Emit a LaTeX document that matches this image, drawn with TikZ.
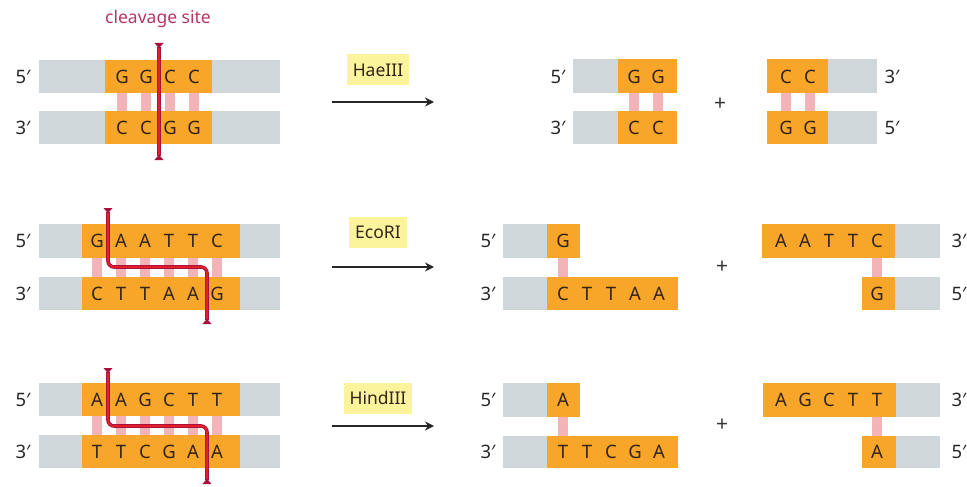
\documentclass[tikz,border=0pt]{standalone}
\usepackage{fontspec}
\setmainfont{Noto Sans}
\usetikzlibrary{arrows.meta}
\definecolor{dnagray}{HTML}{CFD7DA}
\definecolor{dnaorange}{HTML}{F8A62A}
\definecolor{pairpink}{HTML}{F3B4B8}
\definecolor{basecol}{HTML}{33241A}
\definecolor{cutdark}{HTML}{A8123C}
\definecolor{cutred}{HTML}{E3202A}
\definecolor{enzbg}{HTML}{FCF49C}
\definecolor{cleavecol}{HTML}{B5375F}
\tikzset{
  graystrand/.style={fill=dnagray},
  orgstrand/.style={fill=dnaorange},
  pairbar/.style={fill=pairpink},
  base/.style={font=\fontsize{18.5}{18.5}\selectfont, text=basecol, inner sep=0pt, anchor=center},
  endlab/.style={font=\fontsize{18.5}{18.5}\selectfont, text=black!85, inner sep=0pt},
  enzyme/.style={font=\fontsize{17.5}{17.5}\selectfont, text=basecol, fill=enzbg, inner xsep=6pt, inner ysep=0pt, minimum height=31pt},
  plus/.style={font=\fontsize{21}{21}\selectfont, text=black!80, inner sep=0pt},
  rxn/.style={line width=2.2pt, black!85, -{Stealth[length=9pt,width=9pt]}},
  cutunder/.style={line width=3.6pt, cutdark, rounded corners=6pt,
     {Triangle[reversed,length=5pt,width=9pt]}-{Triangle[reversed,length=5pt,width=9pt]}},
  cuttop/.style={line width=1.6pt, cutred, rounded corners=6pt, shorten <=5pt, shorten >=5pt},
}
\begin{document}
\begin{tikzpicture}[x=1pt,y=-1pt]
\useasboundingbox (0,0) rectangle (967,487);

% ================= Row 1: HaeIII =================
\fill[graystrand] (39,60) rectangle (280,93);
\fill[graystrand] (39,111) rectangle (280,144);
\fill[orgstrand] (105,60) rectangle (212,93);
\fill[orgstrand] (105,111) rectangle (212,144);
\foreach \x in {122,146,170,194} \fill[pairbar] (\x-5,93) rectangle (\x+5,111);
\foreach \l [count=\i] in {G,G,C,C} \node[base] (h1t\i) at ({98+24*\i},77) {\l};
\foreach \l [count=\i] in {C,C,G,G} \node[base] (h1b\i) at ({98+24*\i},128) {\l};
\node[endlab] (h1l5) at (23,77) {5′};
\node[endlab] (h1l3) at (23,128) {3′};
\node[font=\fontsize{17.5}{17.5}\selectfont, text=cleavecol, inner sep=0pt] (cleave) at (158,19) {cleavage site};
\coordinate (c1a) at (159,43);
\coordinate (c1b) at (159,160);
\draw[cutunder] (c1a) -- (c1b);
\draw[cuttop] (c1a) -- (c1b);

\node[enzyme] (enz1) at (378,70) {HaeIII};
\coordinate (ar1a) at (332,102);
\coordinate (ar1b) at (434,102);
\draw[rxn] (ar1a) -- (ar1b);

% products row 1
\fill[graystrand] (573,59) rectangle (618,93);
\fill[orgstrand] (618,59) rectangle (677,93);
\fill[graystrand] (573,111) rectangle (618,144);
\fill[orgstrand] (618,111) rectangle (677,144);
\foreach \x in {634,658} \fill[pairbar] (\x-5,93) rectangle (\x+5,111);
\node[base] (p1g1) at (634,77) {G};
\node[base] (p1g2) at (658,77) {G};
\node[base] (p1c1) at (634,128) {C};
\node[base] (p1c2) at (658,128) {C};
\node[endlab] (p1l5) at (558,77) {5′};
\node[endlab] (p1l3) at (558,128) {3′};
\node[plus] (plus1) at (720,104) {+};
\fill[orgstrand] (767,59) rectangle (828,93);
\fill[graystrand] (828,59) rectangle (877,93);
\fill[orgstrand] (767,111) rectangle (828,144);
\fill[graystrand] (828,111) rectangle (877,144);
\foreach \x in {786,810} \fill[pairbar] (\x-5,93) rectangle (\x+5,111);
\node[base] (q1c1) at (786,77) {C};
\node[base] (q1c2) at (810,77) {C};
\node[base] (q1g1) at (786,128) {G};
\node[base] (q1g2) at (810,128) {G};
\node[endlab] (q1l3) at (892,77) {3′};
\node[endlab] (q1l5) at (892,128) {5′};

% ================= Row 2: EcoRI =================
\fill[graystrand] (39,224) rectangle (280,258);
\fill[graystrand] (39,277) rectangle (280,310);
\fill[orgstrand] (82,224) rectangle (240,258);
\fill[orgstrand] (82,277) rectangle (240,310);
\foreach \x in {97,121,145,169,193,217} \fill[pairbar] (\x-5,258) rectangle (\x+5,277);
\foreach \l [count=\i] in {G,A,A,T,T,C} \node[base] (e1t\i) at ({73+24*\i},241) {\l};
\foreach \l [count=\i] in {C,T,T,A,A,G} \node[base] (e1b\i) at ({73+24*\i},294) {\l};
\node[endlab] (e1l5) at (23,241) {5′};
\node[endlab] (e1l3) at (23,294) {3′};
\coordinate (c2a) at (108,208);
\coordinate (c2b) at (108,267);
\coordinate (c2c) at (207,267);
\coordinate (c2d) at (207,324);
\draw[cutunder] (c2a) -- (c2b) -- (c2c) -- (c2d);
\draw[cuttop] (c2a) -- (c2b) -- (c2c) -- (c2d);

\node[enzyme] (enz2) at (378,232) {EcoRI};
\coordinate (ar2a) at (332,267);
\coordinate (ar2b) at (434,267);
\draw[rxn] (ar2a) -- (ar2b);

% products row 2
\fill[graystrand] (503,224) rectangle (547,258);
\fill[orgstrand] (547,224) rectangle (580,258);
\fill[graystrand] (503,277) rectangle (547,310);
\fill[orgstrand] (547,277) rectangle (678,310);
\fill[pairbar] (558,258) rectangle (568,277);
\node[base] (p2g) at (563,241) {G};
\foreach \l [count=\i] in {C,T,T,A,A} \node[base] (p2b\i) at ({539+24*\i},294) {\l};
\node[endlab] (p2l5) at (488,241) {5′};
\node[endlab] (p2l3) at (488,294) {3′};
\node[plus] (plus2) at (722,267) {+};
\fill[orgstrand] (762,224) rectangle (895,258);
\fill[graystrand] (895,224) rectangle (940,258);
\fill[orgstrand] (862,277) rectangle (895,310);
\fill[graystrand] (895,277) rectangle (940,310);
\fill[pairbar] (872,258) rectangle (882,277);
\foreach \l [count=\i] in {A,A,T,T,C} \node[base] (q2t\i) at ({757+24*\i},241) {\l};
\node[base] (q2g) at (877,294) {G};
\node[endlab] (q2l3) at (959,241) {3′};
\node[endlab] (q2l5) at (959,294) {5′};

% ================= Row 3: HindIII =================
\fill[graystrand] (39,383) rectangle (280,416);
\fill[graystrand] (39,435) rectangle (280,468);
\fill[orgstrand] (82,383) rectangle (240,416);
\fill[orgstrand] (82,435) rectangle (240,468);
\foreach \x in {97,121,145,169,193,217} \fill[pairbar] (\x-5,416) rectangle (\x+5,435);
\foreach \l [count=\i] in {A,A,G,C,T,T} \node[base] (d1t\i) at ({73+24*\i},400) {\l};
\foreach \l [count=\i] in {T,T,C,G,A,A} \node[base] (d1b\i) at ({73+24*\i},452) {\l};
\node[endlab] (d1l5) at (23,400) {5′};
\node[endlab] (d1l3) at (23,452) {3′};
\coordinate (c3a) at (108,368);
\coordinate (c3b) at (108,426);
\coordinate (c3c) at (207,426);
\coordinate (c3d) at (207,484);
\draw[cutunder] (c3a) -- (c3b) -- (c3c) -- (c3d);
\draw[cuttop] (c3a) -- (c3b) -- (c3c) -- (c3d);

\node[enzyme] (enz3) at (378,398) {HindIII};
\coordinate (ar3a) at (332,426);
\coordinate (ar3b) at (434,426);
\draw[rxn] (ar3a) -- (ar3b);

% products row 3
\fill[graystrand] (503,383) rectangle (547,417);
\fill[orgstrand] (547,383) rectangle (580,417);
\fill[graystrand] (503,436) rectangle (547,468);
\fill[orgstrand] (547,436) rectangle (678,468);
\fill[pairbar] (558,417) rectangle (568,436);
\node[base] (p3a) at (563,400) {A};
\foreach \l [count=\i] in {T,T,C,G,A} \node[base] (p3b\i) at ({539+24*\i},452) {\l};
\node[endlab] (p3l5) at (488,400) {5′};
\node[endlab] (p3l3) at (488,452) {3′};
\node[plus] (plus3) at (722,425) {+};
\fill[orgstrand] (763,383) rectangle (896,417);
\fill[graystrand] (896,383) rectangle (940,417);
\fill[orgstrand] (862,436) rectangle (896,468);
\fill[graystrand] (896,436) rectangle (940,468);
\fill[pairbar] (872,417) rectangle (882,436);
\foreach \l [count=\i] in {A,G,C,T,T} \node[base] (q3t\i) at ({757+24*\i},400) {\l};
\node[base] (q3a) at (877,452) {A};
\node[endlab] (q3l3) at (959,400) {3′};
\node[endlab] (q3l5) at (959,452) {5′};
\end{tikzpicture}
\end{document}
